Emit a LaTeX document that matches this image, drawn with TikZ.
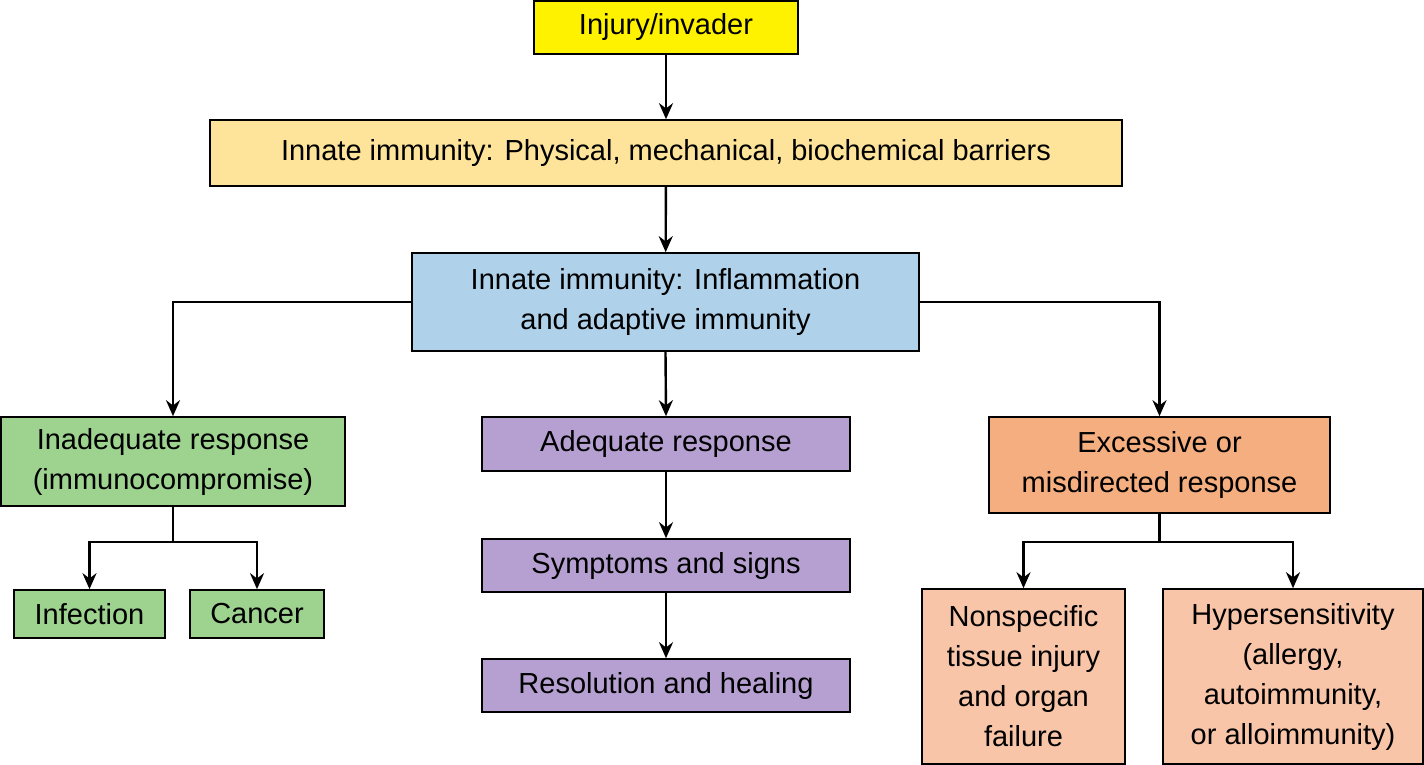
\documentclass[tikz,border=0pt]{standalone}
\usepackage{fontspec}
\setmainfont{Liberation Sans}
\usetikzlibrary{arrows.meta}
\begin{document}
\begin{tikzpicture}[x=0.5pt,y=-0.5pt,
  box/.style={draw=black,line width=0.8pt,align=center,inner sep=0pt,font=\fontsize{14.5}{20}\selectfont},
  arr/.style={line width=1.2pt,-{Stealth[length=8pt,width=7pt]}},
  ln/.style={line width=1.2pt}]
\useasboundingbox (0,0) rectangle (1424,765);
\definecolor{cy}{HTML}{FFF200}
\definecolor{cly}{HTML}{FDE49A}
\definecolor{cb}{HTML}{AFD1EA}
\definecolor{cg}{HTML}{9DD28F}
\definecolor{cp}{HTML}{B6A0D2}
\definecolor{co}{HTML}{F5AE80}
\definecolor{cpe}{HTML}{F8C5A8}
\node[box,fill=cy,minimum width=132pt,minimum height=26.5pt] (inj) at (666,27.5) {Injury/invader};
\node[box,fill=cly,minimum width=456pt,minimum height=33pt] (phys) at (666,153) {Innate immunity: Physical, mechanical, biochemical barriers};
\node[box,fill=cb,minimum width=253.5pt,minimum height=49pt] (infl) at (665.5,302) {Innate immunity: Inflammation\\and adaptive immunity};
\node[box,fill=cg,minimum width=172pt,minimum height=44.5pt] (inad) at (173,461.5) {Inadequate response\\(immunocompromise)};
\node[box,fill=cp,minimum width=184pt,minimum height=27pt] (adeq) at (666,444) {Adequate response};
\node[box,fill=cp,minimum width=184pt,minimum height=26.5pt] (symp) at (666,565.5) {Symptoms and signs};
\node[box,fill=cp,minimum width=184pt,minimum height=26.5pt] (reso) at (666,685.5) {Resolution and healing};
\node[box,fill=co,minimum width=170.5pt,minimum height=48pt] (exc) at (1159.5,465) {Excessive or\\misdirected response};
\node[box,fill=cg,minimum width=75.5pt,minimum height=24pt] (infe) at (89.5,614) {Infection};
\node[box,fill=cg,minimum width=67pt,minimum height=24pt] (canc) at (257,614) {Cancer};
\node[box,fill=cpe,minimum width=101.5pt,minimum height=87.5pt] (nons) at (1023.5,676.5) {Nonspecific\\tissue injury\\and organ\\failure};
\node[box,fill=cpe,minimum width=130pt,minimum height=87.5pt] (hyp) at (1293,676.5) {Hypersensitivity\\(allergy,\\autoimmunity,\\or alloimmunity)};
\draw[arr] (inj) -- (phys);
\draw[arr] (phys) -- (infl);
\draw[arr] (infl.south) -- (adeq.north);
\draw[arr] (adeq) -- (symp);
\draw[arr] (symp) -- (reso);
\draw[arr] (infl.west) -| (inad.north);
\draw[arr] (infl.east) -| (exc.north);
\coordinate (j1) at (173,542);
\coordinate (j2) at (1159.5,542);
\draw[ln] (inad.south) -- (j1);
\draw[arr] (j1) -| (infe.north);
\draw[arr] (j1) -| (canc.north);
\draw[ln] (exc.south) -- (j2);
\draw[arr] (j2) -| (nons.north);
\draw[arr] (j2) -| (hyp.north);
\end{tikzpicture}
\end{document}
